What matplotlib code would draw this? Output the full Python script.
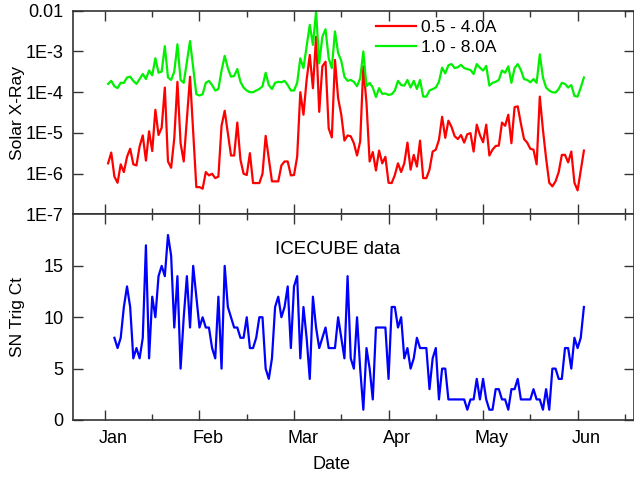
import numpy as np
import matplotlib.pyplot as plt
from matplotlib.ticker import FixedLocator, FuncFormatter, MultipleLocator, LogLocator, NullFormatter
from matplotlib.transforms import ScaledTranslation

plt.rcParams['font.family'] = ['Liberation Sans', 'DejaVu Sans']

# days counted from Jan 1 (each month drawn as 30 days wide)
xray_day = np.arange(1, 153)

# GOES flux, 0.5 - 4.0A channel
flux_short = [
    1.8e-6, 3.3e-6, 8.5e-7, 6.0e-7, 1.7e-6, 1.1e-6, 2.6e-6, 4.1e-6, 1.7e-6, 1.6e-6,
    4.7e-6, 8.7e-6, 2.1e-6, 1.1e-5, 3.6e-6, 3.7e-5, 8.9e-6, 1.35e-5, 1.3e-4, 2.0e-6,
    1.4e-6, 7.4e-6, 1.8e-4, 5.6e-6, 2.0e-6, 2.2e-5, 2.4e-4, 1.1e-5, 4.7e-7, 4.7e-7,
    4.3e-7, 1.1e-6, 9.1e-7, 1.0e-6, 7.8e-7, 8.5e-7, 1.5e-5, 3.5e-5, 1.0e-5, 2.8e-6,
    2.8e-6, 1.8e-5, 2.2e-6, 1.0e-6, 9.3e-7, 3.2e-6, 5.9e-7, 5.9e-7, 5.9e-7, 1.0e-6,
    8.5e-6, 2.3e-6, 6.5e-7, 6.5e-7, 6.5e-7, 1.6e-6, 2.0e-6, 2.0e-6, 9.1e-7, 9.3e-7,
    2.6e-6, 1.0e-4, 2.8e-5, 2.0e-4, 8.2e-4, 1.25e-4, 2.3e-3, 3.3e-5, 4.3e-4, 5.6e-4,
    1.3e-5, 7.8e-6, 6.2e-4, 7.1e-5, 2.8e-5, 6.5e-6, 8.7e-6, 8.3e-6, 5.6e-6, 2.8e-6,
    6.2e-6, 4.3e-4, 5.4e-5, 2.0e-6, 3.4e-6, 1.2e-6, 3.7e-6, 1.8e-6, 2.6e-6, 6.0e-7,
    5.9e-7, 9.3e-7, 1.8e-6, 1.1e-6, 1.8e-6, 5.8e-6, 1.26e-6, 2.9e-6, 1.5e-6, 6.5e-6,
    7.8e-7, 7.8e-7, 1.26e-6, 3.5e-6, 3.9e-6, 6.8e-6, 2.5e-5, 7.6e-6, 2.0e-5, 1.4e-5,
    8.3e-6, 7.1e-6, 8.9e-6, 5.8e-6, 9.3e-6, 9.9e-6, 3.5e-6, 1.6e-5, 8.9e-6, 5.9e-6,
    1.6e-5, 2.8e-6, 3.9e-6, 4.8e-6, 4.9e-6, 1.8e-5, 1.5e-5, 2.8e-5, 5.6e-6, 4.3e-5,
    4.5e-5, 1.7e-5, 7.1e-6, 5.8e-6, 4.1e-6, 3.9e-6, 1.7e-6, 7.8e-5, 1.2e-5, 2.4e-6,
    6.0e-7, 4.9e-7, 6.5e-7, 1.1e-6, 2.9e-6, 2.9e-6, 1.9e-6, 3.5e-6, 6.0e-7, 3.9e-7,
    1.2e-6, 3.7e-6,
]

# GOES flux, 1.0 - 8.0A channel
flux_long = [
    1.6e-4, 1.9e-4, 1.4e-4, 1.26e-4, 1.7e-4, 1.7e-4, 2.3e-4, 2.4e-4, 1.9e-4, 1.6e-4,
    2.1e-4, 2.8e-4, 2.1e-4, 3.4e-4, 2.6e-4, 6.8e-4, 3.0e-4, 3.2e-4, 1.35e-3, 2.3e-4,
    2.0e-4, 3.2e-4, 1.5e-3, 2.0e-4, 1.7e-4, 5.5e-4, 1.8e-3, 4.0e-4, 8.9e-5, 8.3e-5,
    8.9e-5, 1.7e-4, 1.9e-4, 1.5e-4, 1.1e-4, 1.2e-4, 3.4e-4, 7.8e-4, 3.9e-4, 2.4e-4,
    2.5e-4, 3.7e-4, 1.8e-4, 1.3e-4, 1.1e-4, 1.0e-4, 1.0e-4, 1.1e-4, 1.2e-4, 1.4e-4,
    3.0e-4, 1.5e-4, 1.2e-4, 1.7e-4, 1.8e-4, 1.75e-4, 1.9e-4, 1.5e-4, 1.1e-4, 1.1e-4,
    1.7e-4, 6.8e-4, 3.9e-4, 1.3e-3, 4.5e-3, 1.45e-3, 9.5e-3, 5.1e-4, 2.3e-3, 3.5e-3,
    6.8e-4, 3.9e-4, 3.1e-3, 9.1e-4, 5.9e-4, 2.4e-4, 1.9e-4, 2.0e-4, 1.8e-4, 1.4e-4,
    2.2e-4, 1.0e-3, 1.4e-4, 1.7e-4, 1.3e-4, 7.6e-5, 1.26e-4, 9.1e-5, 9.3e-5, 8.6e-5,
    8.9e-5, 1.1e-4, 1.9e-4, 1.5e-4, 1.45e-4, 2.0e-4, 1.3e-4, 1.9e-4, 1.2e-4, 2.0e-4,
    7.8e-5, 7.8e-5, 1.1e-4, 1.2e-4, 1.3e-4, 1.8e-4, 4.0e-4, 2.9e-4, 4.6e-4, 4.9e-4,
    3.9e-4, 4.1e-4, 4.7e-4, 3.9e-4, 3.7e-4, 3.5e-4, 2.8e-4, 4.9e-4, 4.0e-4, 3.4e-4,
    4.4e-4, 1.45e-4, 1.7e-4, 1.8e-4, 2.0e-4, 3.4e-4, 3.0e-4, 4.3e-4, 1.7e-4, 3.9e-4,
    4.9e-4, 3.5e-4, 2.1e-4, 2.0e-4, 1.75e-4, 2.1e-4, 1.7e-4, 8.5e-4, 2.3e-4, 1.3e-4,
    1.1e-4, 1.0e-4, 9.8e-5, 1.2e-4, 1.7e-4, 1.6e-4, 1.3e-4, 1.5e-4, 8.1e-5, 7.8e-5,
    1.3e-4, 2.3e-4,
]

# IceCube supernova trigger counts
sn_day = np.arange(3, 153)
sn_count = [
    8, 7, 8, 11, 13, 11, 6, 7, 6, 8,
    17, 6, 12, 10, 14, 15, 14, 18, 16, 9,
    14, 5, 10, 14, 9, 15, 12, 9, 10, 9,
    9, 7, 6, 12, 5, 15, 11, 10, 9, 9,
    8, 8, 10, 7, 7, 8, 10, 10, 5, 4,
    6, 11, 12, 10, 11, 13, 7, 13, 14, 6,
    11, 8, 4, 12, 9, 7, 8, 9, 7, 7,
    7, 10, 8, 6, 14, 6, 5, 10, 5, 1,
    7, 5, 2, 9, 9, 9, 9, 4, 11, 11,
    9, 10, 6, 7, 5, 6, 8, 7, 7, 7,
    3, 6, 7, 2, 5, 5, 2, 2, 2, 2,
    2, 2, 1, 2, 2, 4, 2, 4, 2, 1,
    1, 3, 3, 2, 2, 1, 3, 3, 4, 2,
    2, 2, 2, 3, 2, 2, 1, 3, 1, 5,
    5, 4, 4, 7, 7, 5, 8, 7, 8, 11,
]

month_names = ['Jan', 'Feb', 'Mar', 'Apr', 'May', 'Jun']
month_start = [0, 30, 60, 90, 120, 150]

fig = plt.figure(figsize=(6.34, 4.79), dpi=100)
ax1 = fig.add_axes([0.1151, 0.5522, 0.8849, 0.4255])
ax2 = fig.add_axes([0.1151, 0.1232, 0.8849, 0.4290])

ax1.plot(xray_day, flux_short, color='#ff0000', lw=1.6, label='0.5 - 4.0A')
ax1.plot(xray_day, flux_long, color='#00f000', lw=1.6, label='1.0 - 8.0A')
ax1.set_yscale('log')
ax1.set_ylim(1e-7, 1e-2)
ax1.yaxis.set_major_locator(FixedLocator([1e-7, 1e-6, 1e-5, 1e-4, 1e-3, 1e-2]))
ax1.yaxis.set_major_formatter(FuncFormatter(
    lambda v, p: '0.01' if v > 5e-3 else '1E-%d' % round(-np.log10(v))))
ax1.yaxis.set_minor_locator(LogLocator(base=10, subs=np.arange(2, 10)))
ax1.yaxis.set_minor_formatter(NullFormatter())
ax1.set_ylabel('Solar X-Ray', fontsize=12.5)
ax1.legend(loc='upper left', bbox_to_anchor=(0.534, 0.97), frameon=False, fontsize=12.5,
           handlelength=2.3, handletextpad=0.3, labelspacing=0.25, borderpad=0.2,
           borderaxespad=0)

ax2.plot(sn_day, sn_count, color='#0000ff', lw=1.6)
ax2.set_ylim(0, 20)
ax2.yaxis.set_major_locator(FixedLocator([0, 5, 10, 15]))
ax2.set_ylabel('SN Trig Ct', fontsize=12.5)
ax2.text(73.7, 16.6, 'ICECUBE data', ha='center', va='center', fontsize=13.5)
ax2.set_xlabel('Date', fontsize=13)

for ax in (ax1, ax2):
    ax.set_xlim(-10.15, 167.9)
    ax.xaxis.set_major_locator(FixedLocator(month_start))
    ax.xaxis.set_minor_locator(MultipleLocator(15))
    ax.tick_params(which='both', direction='in', top=True, right=True, labelsize=13,
                   color='#333333', pad=7)
    ax.tick_params(which='major', length=7, width=1)
    ax.tick_params(which='minor', length=4, width=1)
    ax.yaxis.set_label_coords(-0.086, 0.5)
    for s in ax.spines.values():
        s.set_linewidth(1.2)
        s.set_color('#333333')

ax1.tick_params(labelbottom=False)
ax2.set_xticks(month_start)
ax2.set_xticklabels(month_names)
shift = ScaledTranslation(0.085, 0, fig.dpi_scale_trans)
for lab in ax2.get_xticklabels():
    lab.set_transform(lab.get_transform() + shift)
ax2.xaxis.set_label_coords(0.46, -0.175)

plt.savefig('out.png', dpi=100)
